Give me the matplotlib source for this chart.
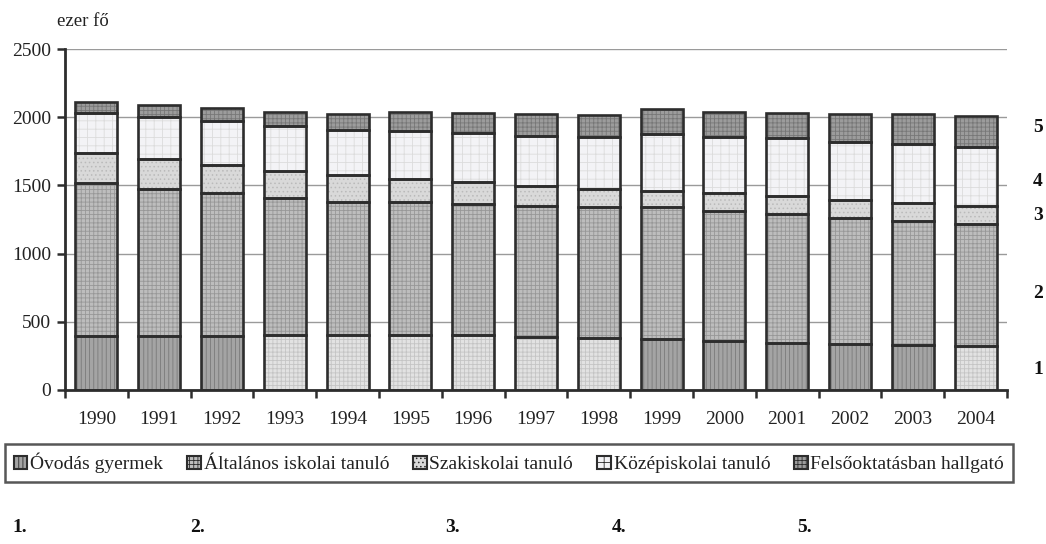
import matplotlib
matplotlib.use("Agg")
import matplotlib.pyplot as plt
from matplotlib.patches import Patch

plt.rcParams['font.family'] = ['Liberation Serif', 'DejaVu Serif']
plt.rcParams['hatch.linewidth'] = 0.6

years = ['1990', '1991', '1992', '1993', '1994', '1995', '1996', '1997',
         '1998', '1999', '2000', '2001', '2002', '2003', '2004']
ovodas = [396, 396, 396, 403, 403, 403, 403, 391, 384, 374, 359, 347, 337, 330, 325]
altalanos = [1124, 1077, 1046, 1002, 977, 977, 960, 960, 960, 970, 955, 941, 922, 909, 890]
szakiskolai = [219, 220, 207, 200, 194, 167, 159, 146, 127, 117, 128, 134, 134, 130, 134]
kozepiskolai = [289, 310, 323, 330, 332, 351, 364, 365, 381, 416, 415, 423, 427, 435, 435]
felso = [85, 86, 93, 105, 117, 137, 147, 159, 161, 180, 181, 188, 203, 219, 225]
labels = ['Óvodás gyermek', 'Általános iskolai tanuló', 'Szakiskolai tanuló',
          'Középiskolai tanuló', 'Felsőoktatásban hallgató']
side_numbers = ['1', '2', '3', '4', '5']
bottom_numbers = ['1.', '2.', '3.', '4.', '5.']

series = [ovodas, altalanos, szakiskolai, kozepiskolai, felso]

# styles: (face, hatch colour, hatch)
dark1 = ('#a4a4a4', '#7a7a7a', '||||')
light1 = ('#e2e2e2', '#c4c4c4', '++++')
styles = [
    None,
    ('#bdbdbd', '#979797', '++++'),
    ('#d9d9d9', '#bababa', '....'),
    ('#f3f3f6', '#dcdcdc', '++'),
    ('#9c9c9c', '#777777', '++++'),
]
ov_style = [dark1] * 3 + [light1] * 6 + [dark1] * 5 + [light1]

fig = plt.figure(figsize=(10.46, 5.44), dpi=100)
ax = fig.add_axes([65 / 1046, 1 - 390 / 544, 942 / 1046, 341 / 544])

x = list(range(len(years)))
width = 0.67
bottom = [0] * len(years)
for i, vals in enumerate(series):
    if i == 0:
        faces = [s[0] for s in ov_style]
        hcols = [s[1] for s in ov_style]
        bars = ax.bar(x, vals, width, bottom=bottom, color=faces,
                      edgecolor=hcols, linewidth=0, zorder=2)
        for b, s in zip(bars, ov_style):
            b.set_hatch(s[2])
    else:
        f, hc, h = styles[i]
        ax.bar(x, vals, width, bottom=bottom, color=f, edgecolor=hc,
               hatch=h, linewidth=0, zorder=2)
    ax.bar(x, vals, width, bottom=bottom, fill=False, edgecolor='#2d2d2d',
           linewidth=1.9, zorder=3)
    bottom = [b + v for b, v in zip(bottom, vals)]

ax.set_xlim(-0.5, len(years) - 0.5)
ax.set_ylim(0, 2500)
ax.set_yticks([0, 500, 1000, 1500, 2000, 2500])
ax.yaxis.grid(True, color='#9a9a9a', linewidth=1.0, zorder=0)
ax.set_axisbelow(True)
for s in ['top', 'right']:
    ax.spines[s].set_visible(False)
for s in ['left', 'bottom']:
    ax.spines[s].set_linewidth(2.0)
    ax.spines[s].set_color('#2d2d2d')

ax.set_xticks([i - 0.5 for i in range(len(years) + 1)])
ax.set_xticklabels([])
ax.set_xticks(x, minor=True)
ax.set_xticklabels(years, minor=True)
ax.tick_params(axis='x', which='major', length=6, width=1.8, color='#2d2d2d')
ax.tick_params(axis='x', which='minor', length=0, pad=15, labelsize=14, labelcolor='#222222')
ax.tick_params(axis='y', length=6, width=1.8, color='#2d2d2d', pad=4,
               labelsize=14, labelcolor='#222222')

fig.text(57 / 1046, 1 - 22 / 544, 'ezer fő', ha='left', va='center',
         fontsize=13.5, color='#222222')

# legend
handles = []
leg_styles = [dark1] + styles[1:]
for (f, hc, h), lab in zip(leg_styles, labels):
    handles.append(Patch(facecolor=f, edgecolor='#2d2d2d', hatch=h,
                         linewidth=1.5, label=lab))
leg = fig.legend(handles=handles, ncol=5, loc='center', mode='expand',
                 bbox_to_anchor=(5 / 1046, 1 - 482 / 544, 1008 / 1046, 38 / 544),
                 fontsize=14, handlelength=0.7, handleheight=0.7,
                 handletextpad=0.15, borderpad=0.45, borderaxespad=0,
                 frameon=True, fancybox=False)
leg.get_frame().set_edgecolor('#2d2d2d')
leg.get_frame().set_linewidth(1.8)
for t in leg.get_texts():
    t.set_color('#222222')

# side numbers
side_y = [369, 293, 216, 182, 127]
for n, yy in zip(side_numbers, side_y):
    fig.text(1038 / 1046, 1 - yy / 544, n, ha='center', va='center',
             fontsize=14, fontweight='bold', color='#111111')

bottom_x = [12, 190, 445, 612, 797]
for n, xx in zip(bottom_numbers, bottom_x):
    fig.text(xx / 1046, 1 - 527 / 544, n, ha='left', va='center',
             fontsize=14, fontweight='bold', color='#111111')

fig.savefig('out.png', dpi=100, facecolor='white')
